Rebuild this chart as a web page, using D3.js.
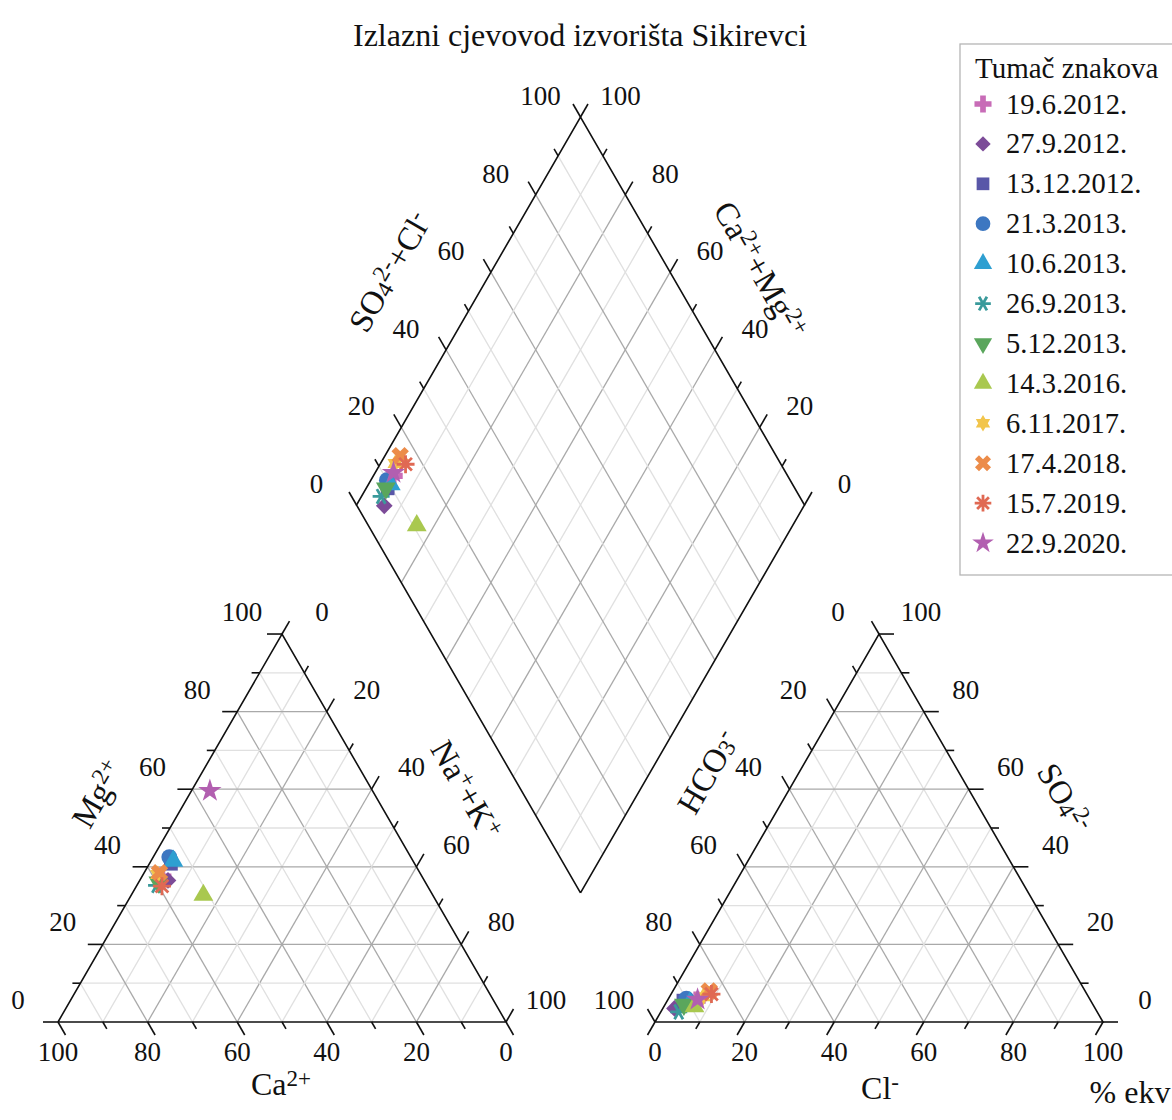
<!DOCTYPE html>
<html>
<head>
<meta charset="utf-8">
<script src="https://cdn.jsdelivr.net/npm/d3@7"></script>
<style>
  body { margin: 0; background: #fff; }
  text { font-family: "Liberation Serif", "Times New Roman", serif; fill: #111; }
</style>
</head>
<body>
<svg id="chart" width="1172" height="1120"></svg>
<script>
// sample dates (legend)
const dates = ["19.6.2012.", "27.9.2012.", "13.12.2012.", "21.3.2013.", "10.6.2013.", "26.9.2013.",
               "5.12.2013.", "14.3.2016.", "6.11.2017.", "17.4.2018.", "15.7.2019.", "22.9.2020."];
const shapes = ["plus", "diamond", "square", "circle", "triangle", "aster6",
                "triangleDown", "triangle", "hexagram", "x", "aster8", "star"];
const colors = ["#c86cb7", "#7c4b98", "#5957a8", "#3d77c1", "#2e9fd1", "#3a9a9b",
                "#5aa65c", "#a9c84f", "#f2c54c", "#ec8c4a", "#e06953", "#b25fb0"];

// cations, % ekv
const ca  = [58.0, 57.2, 54.4, 53.9, 53.5, 60.4, 59.6, 51.2, 58.7, 58.1, 59.3, 36.3];
const mg  = [37.5, 36.5, 40.8, 42.5, 41.5, 35.2, 36.0, 32.7, 38.0, 38.5, 35.0, 59.6];
const nak = [4.5, 6.3, 4.8, 3.6, 5.0, 4.4, 4.4, 16.1, 3.3, 3.4, 5.7, 4.1];
// anions, % ekv
const hco3 = [88.0, 93.9, 90.9, 90.0, 89.7, 93.4, 91.3, 89.2, 86.0, 83.9, 83.8, 87.6];
const so4  = [5.5, 3.5, 5.5, 6.0, 5.0, 2.6, 4.5, 4.0, 6.5, 8.0, 7.2, 5.8];
const cl   = [6.5, 2.6, 3.6, 4.0, 5.3, 4.0, 4.2, 6.8, 7.5, 8.1, 9.0, 6.6];

const tickVals = d3.range(0, 101, 10);
const labelVals = [0, 20, 40, 60, 80, 100];

const svg = d3.select("#chart");

// geometry
const W = 448, gap = 149, x0 = 58, base = 1022;
const sin60 = Math.sqrt(3) / 2;
const s = d3.scaleLinear().domain([0, 100]).range([0, W]);
const h = d3.scaleLinear().domain([0, 100]).range([0, W * sin60]);

// a = bottom-right component, b = top component
const tri = ox => (a, b) => [ox + s(a) + s(b) / 2, base - h(b)];
const leftPt = tri(x0);
const rightPt = tri(x0 + W + gap);
const xc = x0 + W + gap / 2, yB = base - gap * sin60;
// u = Ca+Mg, v = SO4+Cl
const diaPt = (u, v) => [xc + s(v) / 2 - s(u) / 2, yB - h(u) - h(v)];

const line = d3.line();
const gridG = svg.append("g");
const frameG = svg.append("g");
const labelG = svg.append("g");
const markG = svg.append("g");

function gridLine(p, q, k) {
  gridG.append("path").attr("d", line([p, q]))
    .attr("stroke", k % 20 === 0 ? "#a9a9a9" : "#e0e0e0")
    .attr("stroke-width", 1.3).attr("fill", "none");
}
function edge(pts) {
  frameG.append("path").attr("d", line(pts)).attr("stroke", "#111")
    .attr("stroke-width", 1.6).attr("fill", "none");
}
function tick(p, dir, k) {
  const len = k % 20 === 0 ? 15 : 8;
  edge([p, [p[0] + dir[0] * len, p[1] + dir[1] * len]]);
}
function label(p, dx, dy, txt) {
  labelG.append("text").attr("x", p[0] + dx).attr("y", p[1] + dy)
    .attr("text-anchor", "middle").attr("dominant-baseline", "central")
    .attr("font-size", 27).text(txt);
}

// triangles
[leftPt, rightPt].forEach(pt => {
  tickVals.filter(k => k > 0 && k < 100).forEach(k => {
    gridLine(pt(0, k), pt(100 - k, k), k);
    gridLine(pt(k, 0), pt(k, 100 - k), k);
    gridLine(pt(100 - k, 0), pt(0, 100 - k), k);
  });
  edge([pt(0, 0), pt(100, 0), pt(0, 100), pt(0, 0)]);
});

// diamond
tickVals.filter(k => k > 0 && k < 100).forEach(k => {
  gridLine(diaPt(k, 0), diaPt(k, 100), k);
  gridLine(diaPt(0, k), diaPt(100, k), k);
});
edge([diaPt(0, 0), diaPt(100, 0), diaPt(100, 100), diaPt(0, 100), diaPt(0, 0)]);

const UL = [-0.5, -sin60], UR = [0.5, -sin60], DL = [-0.5, sin60], DR = [0.5, sin60];
tickVals.forEach(k => {
  // cation triangle
  tick(leftPt(0, k), [-1, 0], k);
  tick(leftPt(k, 100 - k), UR, k);
  tick(leftPt(100 - k, 0), DR, k);
  // anion triangle
  tick(rightPt(0, 100 - k), UL, k);
  tick(rightPt(100 - k, k), [1, 0], k);
  tick(rightPt(k, 0), DL, k);
  // diamond
  tick(diaPt(100, k), UL, k);
  tick(diaPt(k, 100), UR, k);
});

labelVals.forEach(k => {
  label(leftPt(0, k), -40, -22, k);
  label(leftPt(k, 100 - k), 40, -22, k);
  label(leftPt(100 - k, 0), 0, 30, k);
  label(rightPt(0, 100 - k), -41, -22, k);
  label(rightPt(100 - k, k), 42, -22, k);
  label(rightPt(k, 0), 0, 30, k);
  label(diaPt(100, k), -40, -21, k);
  label(diaPt(k, 100), 40, -21, k);
});

// rich text: parts of [text, "n" | "sup" | "sub"]
function rich(x, y, rot, parts, size) {
  const t = svg.append("text")
    .attr("transform", `translate(${x},${y}) rotate(${rot})`)
    .attr("text-anchor", "middle").attr("dominant-baseline", "central")
    .attr("font-size", size);
  parts.forEach(([str, kind]) => {
    const sp = t.append("tspan").text(str);
    if (kind === "sup") sp.attr("baseline-shift", "28%").attr("font-size", size * 0.72);
    if (kind === "sub") sp.attr("baseline-shift", "-18%").attr("font-size", size * 0.72);
  });
  return t;
}

rich(580, 35, 0, [["Izlazni cjevovod izvorišta Sikirevci", "n"]], 32);
rich(98, 794, -60, [["Mg", "n"], ["2+", "sup"]], 33);
rich(466, 790, 60, [["Na", "n"], ["+", "sup"], ["+K", "n"], ["+", "sup"]], 33);
rich(281, 1084, 0, [["Ca", "n"], ["2+", "sup"]], 32);
rich(708, 772, -60, [["HCO", "n"], ["3", "sub"], ["-", "sup"]], 33);
rich(1064, 798, 60, [["SO", "n"], ["4", "sub"], ["2-", "sup"]], 33);
rich(880, 1088, 0, [["Cl", "n"], ["-", "sup"]], 32);
rich(1130, 1092, 0, [["% ekv", "n"]], 32);
rich(390, 272, -60, [["SO", "n"], ["4", "sub"], ["2-", "sup"], ["+Cl", "n"], ["-", "sup"]], 33);
rich(760, 270, 60, [["Ca", "n"], ["2+", "sup"], ["+Mg", "n"], ["2+", "sup"]], 33);

// markers
function starPath(n, R, r) {
  const pts = d3.range(2 * n).map(i => {
    const a = -Math.PI / 2 + i * Math.PI / n;
    const rr = i % 2 === 0 ? R : r;
    return [rr * Math.cos(a), rr * Math.sin(a)];
  });
  return line(pts) + "Z";
}
function asterPath(n, R) {
  return d3.range(n).map(i => {
    const a = i * Math.PI / n;
    const c = R * Math.cos(a), sn = R * Math.sin(a);
    return `M${-c},${-sn}L${c},${sn}`;
  }).join("");
}
function drawMarker(g, kind, color, x, y, k = 1) {
  const p = g.append("path");
  let rot = 0, d;
  if (kind === "plus") d = d3.symbol(d3.symbolCross, 190 * k)();
  else if (kind === "diamond") { d = d3.symbol(d3.symbolSquare, 140 * k)(); rot = 45; }
  else if (kind === "square") d = d3.symbol(d3.symbolSquare, 190 * k)();
  else if (kind === "circle") d = d3.symbol(d3.symbolCircle, 200 * k)();
  else if (kind === "triangle") d = d3.symbol(d3.symbolTriangle, 170 * k)();
  else if (kind === "triangleDown") { d = d3.symbol(d3.symbolTriangle, 170 * k)(); rot = 180; }
  else if (kind === "x") { d = d3.symbol(d3.symbolCross, 190 * k)(); rot = 45; }
  else if (kind === "star") d = d3.symbol(d3.symbolStar, 170 * k)();
  else if (kind === "hexagram") d = starPath(6, 9 * Math.sqrt(k), 9 * Math.sqrt(k) / Math.sqrt(3));
  else if (kind === "aster6") d = asterPath(3, 8.5 * Math.sqrt(k));
  else if (kind === "aster8") d = asterPath(4, 9 * Math.sqrt(k));
  p.attr("d", d).attr("transform", `translate(${x},${y}) rotate(${rot})`);
  if (kind.startsWith("aster")) p.attr("fill", "none").attr("stroke", color).attr("stroke-width", 2.8);
  else p.attr("fill", color);
}

dates.forEach((dt, i) => {
  const pl = leftPt(nak[i], mg[i]);
  const pr = rightPt(cl[i], so4[i]);
  const pd = diaPt(ca[i] + mg[i], so4[i] + cl[i]);
  [pl, pr, pd].forEach(p => drawMarker(markG, shapes[i], colors[i], p[0], p[1]));
});

// legend
const lg = svg.append("g");
lg.append("rect").attr("x", 960).attr("y", 44).attr("width", 230).attr("height", 531)
  .attr("fill", "#fff").attr("stroke", "#b5b5b5").attr("stroke-width", 1.3);
lg.append("text").attr("x", 975).attr("y", 68).attr("dominant-baseline", "central")
  .attr("font-size", 29).text("Tumač znakova");
const legY = d3.scaleLinear().domain([0, dates.length - 1]).range([104, 543]);
dates.forEach((dt, i) => {
  drawMarker(lg, shapes[i], colors[i], 983, legY(i), 0.85);
  lg.append("text").attr("x", 1006).attr("y", legY(i)).attr("dominant-baseline", "central")
    .attr("font-size", 28.5).text(dt);
});
</script>
</body>
</html>
